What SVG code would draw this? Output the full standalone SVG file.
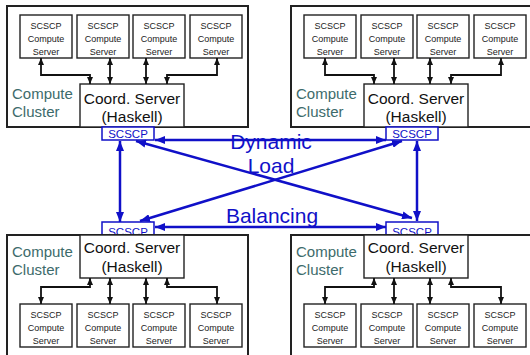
<svg xmlns="http://www.w3.org/2000/svg" width="530" height="355" viewBox="0 0 530 355">
<defs>
<marker id="ab" viewBox="0 0 7 6" markerWidth="7" markerHeight="6" refX="7" refY="3" orient="auto-start-reverse" markerUnits="userSpaceOnUse"><path d="M0,0 L7,3 L0,6 z" fill="#111"/></marker>
<marker id="au" viewBox="0 0 10 8" markerWidth="10" markerHeight="8" refX="10" refY="4" orient="auto-start-reverse" markerUnits="userSpaceOnUse"><path d="M0,0 L10,4 L0,8 z" fill="#1010c8"/></marker>
<style>
text{font-family:"Liberation Sans",Arial,sans-serif}
.cl{fill:#fff;stroke:#222;stroke-width:2}
.bx{fill:#fff;stroke:#222;stroke-width:1.4}
.tab{fill:#fff;stroke:#1010c8;stroke-width:1.5}
.st{font-size:9px;text-anchor:middle;fill:#222}
.ct{font-size:15.5px;text-anchor:middle;fill:#111}
.lbl{font-size:15px;fill:#3d6b6b}
.tt{font-size:11.5px;fill:#1010c8;text-anchor:middle}
.big{font-size:21px;fill:#1010c8;text-anchor:middle}
.bc{fill:none;stroke:#111;stroke-width:1.8;marker-start:url(#ab);marker-end:url(#ab)}
.uc{fill:none;stroke:#1010c8;stroke-width:2.5;marker-start:url(#au);marker-end:url(#au)}
</style>
<g id="srv">
<rect class="bx" x="0" y="0" width="52" height="43"/>
<text class="st" x="26" y="14">SCSCP</text>
<text class="st" x="26" y="27">Compute</text>
<text class="st" x="26" y="40">Server</text>
</g>
</defs>

<!-- Top-left cluster -->
<g id="cluster-tl">
<rect class="cl" x="7" y="6" width="241" height="121"/>
<text class="lbl" x="12" y="99">Compute</text>
<text class="lbl" x="12" y="117">Cluster</text>
</g>
<g id="coord-tl"><rect class="bx" x="80" y="84" width="104" height="43"/>
<text class="ct" x="132" y="104">Coord. Server</text><text class="ct" x="132" y="122">(Haskell)</text></g>
<g id="tab-tl"><rect class="tab" x="102" y="127" width="52" height="13"/><text class="tt" x="128" y="137.5">SCSCP</text></g>
<g id="srv-tl-1"><use href="#srv" x="20" y="15"/></g>
<g id="srv-tl-2"><use href="#srv" x="77" y="15"/></g>
<g id="srv-tl-3"><use href="#srv" x="133" y="15"/></g>
<g id="srv-tl-4"><use href="#srv" x="190" y="15"/></g>

<!-- Top-right cluster -->
<g id="cluster-tr">
<rect class="cl" x="291" y="6" width="241" height="121"/>
<text class="lbl" x="296" y="99">Compute</text>
<text class="lbl" x="296" y="117">Cluster</text>
</g>
<g id="coord-tr"><rect class="bx" x="364" y="84" width="104" height="43"/>
<text class="ct" x="416" y="104">Coord. Server</text><text class="ct" x="416" y="122">(Haskell)</text></g>
<g id="tab-tr"><rect class="tab" x="386" y="127" width="52" height="13"/><text class="tt" x="412" y="137.5">SCSCP</text></g>
<g id="srv-tr-1"><use href="#srv" x="304" y="15"/></g>
<g id="srv-tr-2"><use href="#srv" x="361" y="15"/></g>
<g id="srv-tr-3"><use href="#srv" x="417" y="15"/></g>
<g id="srv-tr-4"><use href="#srv" x="474" y="15"/></g>

<!-- Bottom-left cluster -->
<g id="tab-bl"><rect class="tab" x="102" y="222" width="52" height="14"/><text class="tt" x="128" y="235.5">SCSCP</text></g>
<g id="cluster-bl">
<rect class="cl" x="7" y="235" width="241" height="130"/>
<text class="lbl" x="12" y="257">Compute</text>
<text class="lbl" x="12" y="275">Cluster</text>
</g>
<g id="coord-bl"><rect class="bx" x="80" y="235" width="104" height="43"/>
<text class="ct" x="132" y="252.5">Coord. Server</text><text class="ct" x="132" y="272">(Haskell)</text></g>
<g id="srv-bl-1"><use href="#srv" x="20" y="304"/></g>
<g id="srv-bl-2"><use href="#srv" x="77" y="304"/></g>
<g id="srv-bl-3"><use href="#srv" x="133" y="304"/></g>
<g id="srv-bl-4"><use href="#srv" x="190" y="304"/></g>

<!-- Bottom-right cluster -->
<g id="tab-br"><rect class="tab" x="386" y="222" width="52" height="14"/><text class="tt" x="412" y="235.5">SCSCP</text></g>
<g id="cluster-br">
<rect class="cl" x="291" y="235" width="241" height="130"/>
<text class="lbl" x="296" y="257">Compute</text>
<text class="lbl" x="296" y="275">Cluster</text>
</g>
<g id="coord-br"><rect class="bx" x="364" y="235" width="104" height="43"/>
<text class="ct" x="416" y="252.5">Coord. Server</text><text class="ct" x="416" y="272">(Haskell)</text></g>
<g id="srv-br-1"><use href="#srv" x="304" y="304"/></g>
<g id="srv-br-2"><use href="#srv" x="361" y="304"/></g>
<g id="srv-br-3"><use href="#srv" x="417" y="304"/></g>
<g id="srv-br-4"><use href="#srv" x="474" y="304"/></g>

<!-- Connectors -->
<g id="connectors">
<path class="bc" d="M41,58 V75 H90 V84"/>
<path class="bc" d="M110,58 V84"/>
<path class="bc" d="M146,58 V84"/>
<path class="bc" d="M217,58 V75 H167 V84"/>
<path class="bc" d="M325,58 V75 H374 V84"/>
<path class="bc" d="M394,58 V84"/>
<path class="bc" d="M430,58 V84"/>
<path class="bc" d="M501,58 V75 H451 V84"/>
<path class="bc" d="M90,278 V287 H41 V304"/>
<path class="bc" d="M110,278 V304"/>
<path class="bc" d="M146,278 V304"/>
<path class="bc" d="M167,278 V287 H217 V304"/>
<path class="bc" d="M374,278 V287 H325 V304"/>
<path class="bc" d="M394,278 V304"/>
<path class="bc" d="M430,278 V304"/>
<path class="bc" d="M451,278 V287 H501 V304"/>
<path class="uc" d="M155,140 H386"/>
<path class="uc" d="M155,227 H386"/>
<path class="uc" d="M120,141 V222"/>
<path class="uc" d="M417,141 V221"/>
<path class="uc" d="M136,141 L412,218"/>
<path class="uc" d="M402,141 L140,221"/>
</g>

<g id="label-dlb">
<text class="big" x="271" y="149">Dynamic</text>
<text class="big" x="271" y="173">Load</text>
<text class="big" x="272" y="223">Balancing</text>
</g>
</svg>
